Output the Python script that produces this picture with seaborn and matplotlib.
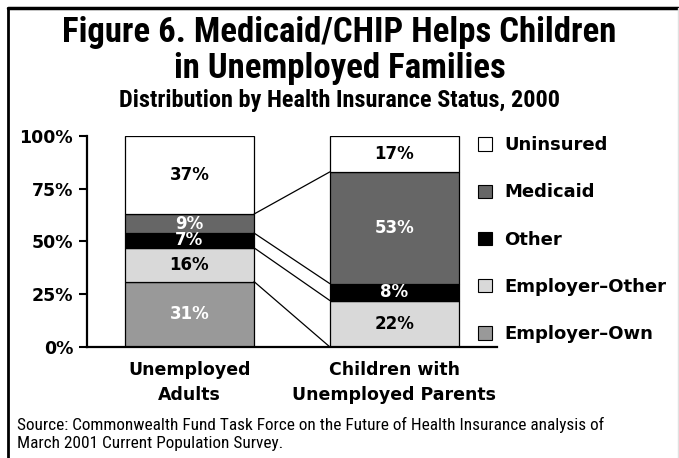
import numpy as np
import matplotlib
matplotlib.use("Agg")
import matplotlib.pyplot as plt
from matplotlib import font_manager
from matplotlib.patches import Patch
from matplotlib.lines import Line2D
import seaborn as sns

# data (bottom to top of each bar)
groups = ["Unemployed\nAdults", "Children with\nUnemployed Parents"]
statuses = ["Employer\u2013Own", "Employer\u2013Other", "Other", "Medicaid", "Uninsured"]
adults = [31, 16, 7, 9, 37]
children = [0, 22, 8, 53, 17]
colors = ["#999999", "#d9d9d9", "#000000", "#666666", "#ffffff"]
text_colors = ["white", "black", "white", "white", "black"]
yticks = [0, 25, 50, 75, 100]
ytick_labels = ["0%", "25%", "50%", "75%", "100%"]


def narrow_font():
    # pick a narrow family if one is installed
    names = {f.name for f in font_manager.fontManager.ttflist}
    for name in ["Liberation Sans Narrow", "DejaVu Sans Condensed", "Roboto Condensed",
                 "Open Sans Condensed"]:
        if name in names:
            return name, "normal", 1.0
    stretches = {f.stretch for f in font_manager.fontManager.ttflist if f.name == "DejaVu Sans"}
    if any(s != 400 and s != "normal" for s in stretches):
        return "DejaVu Sans", "condensed", 1.0
    return "DejaVu Sans", "normal", 0.84


def main():
    sns.set_style("white")
    plt.rcParams["font.family"] = ["DejaVu Sans"]
    for key in ["text.color", "xtick.color", "ytick.color", "axes.labelcolor"]:
        plt.rcParams[key] = "black"
    nfam, nstretch, nscale = narrow_font()

    fig = plt.figure(figsize=(6.79, 4.58), dpi=100)
    ax = fig.add_axes([0.128, 0.2424, 0.604, 0.4607])

    bar_w = 0.63
    values = np.array([adults, children])
    bottoms = np.zeros(2)
    for i, status in enumerate(statuses):
        sns.barplot(x=groups, y=values[:, i], bottom=bottoms, color=colors[i],
                    width=bar_w, edgecolor="black", linewidth=0.9,
                    saturation=1, ax=ax)
        for j in range(2):
            v = values[j, i]
            if v > 0:
                ax.text(j, bottoms[j] + v / 2, f"{v}%", ha="center", va="center",
                        color=text_colors[i], fontsize=12, fontweight="bold")
        bottoms = bottoms + values[:, i]

    # connecting lines between segment boundaries
    cum_a = np.cumsum(adults)[:-1]
    cum_c = np.cumsum(children)[:-1]
    for ya, yc in zip(cum_a, cum_c):
        ax.plot([bar_w / 2, 1 - bar_w / 2], [ya, yc], color="black", lw=0.9)

    ax.set_xlim(-0.5, 1.5)
    ax.set_ylim(0, 100)
    ax.set_yticks(yticks)
    ax.set_yticklabels(ytick_labels, fontsize=12.5, fontweight="bold")
    ax.set_xticks([0, 1])
    ax.set_xticklabels(groups, fontsize=12.5, fontweight="bold", linespacing=1.5)
    ax.set_xticks([0.5, 1.5], minor=True)
    ax.tick_params(axis="x", which="major", length=0, pad=10)
    ax.tick_params(axis="x", which="minor", length=6, width=1.5, direction="out")
    ax.tick_params(axis="y", length=6, width=1.5, direction="out", pad=4, left=True)
    for side in ["top", "right"]:
        ax.spines[side].set_visible(False)
    for side in ["left", "bottom"]:
        ax.spines[side].set_linewidth(1.6)
        ax.spines[side].set_color("black")
    ax.set_xlabel("")
    ax.set_ylabel("")

    # legend
    handles = [Patch(facecolor=colors[i], edgecolor="black", linewidth=0.8, label=statuses[i])
               for i in range(len(statuses) - 1, -1, -1)]
    fig.legend(handles=handles, loc="upper left", bbox_to_anchor=(0.680, 0.738),
               frameon=False, prop={"weight": "bold", "size": 13},
               handlelength=0.75, handleheight=0.75, handletextpad=0.7,
               labelspacing=1.62)

    # titles
    tkw = dict(ha="center", va="center", fontweight="bold", family=nfam, fontstretch=nstretch)
    fig.text(0.5, 0.928, "Figure 6. Medicaid/CHIP Helps Children", fontsize=25 * nscale, **tkw)
    fig.text(0.5, 0.850, "in Unemployed Families", fontsize=25 * nscale, **tkw)
    fig.text(0.5, 0.781, "Distribution by Health Insurance Status, 2000",
             fontsize=17.5 * nscale, **tkw)

    # source
    fig.text(0.025, 0.052, "Source: Commonwealth Fund Task Force on the Future of Health Insurance analysis of\n"
             "March 2001 Current Population Survey.", ha="left", va="center",
             fontsize=12.4 * nscale, family=nfam, fontstretch=nstretch, linespacing=1.25)

    # frame
    fig.add_artist(Line2D([0.0125, 0.0125], [0.0, 0.982], transform=fig.transFigure,
                          color="black", lw=2))
    fig.add_artist(Line2D([0.0125, 0.999], [0.982, 0.982], transform=fig.transFigure,
                          color="black", lw=2.5))
    fig.add_artist(Line2D([0.998, 0.998], [0.0, 0.982], transform=fig.transFigure,
                          color="#e0e0e0", lw=1))

    fig.savefig("out.png", dpi=100)


if __name__ == "__main__":
    main()
